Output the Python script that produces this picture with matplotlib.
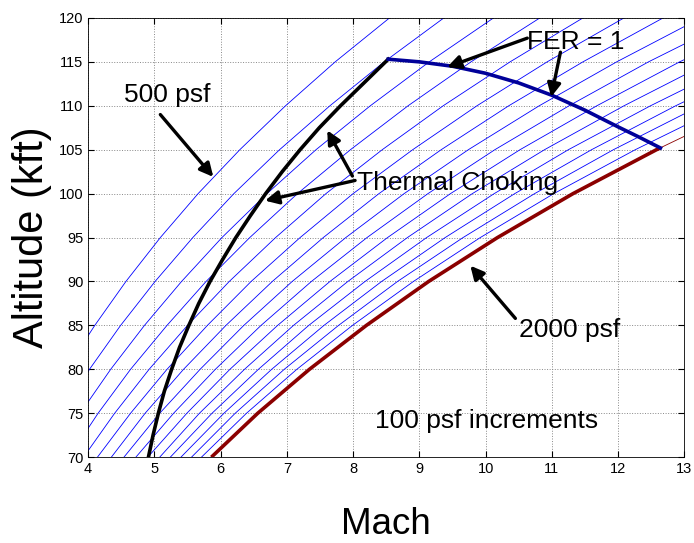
import matplotlib
matplotlib.use("Agg")
import matplotlib.pyplot as plt

plt.rcParams['font.family'] = ['Liberation Sans', 'DejaVu Sans']

# Altitude levels (kft) at which the constant-q lines were read
altitudes = [70, 75, 80, 85, 90, 95, 100, 105, 110, 115, 120]

# Mach number of each constant dynamic-pressure line (psf) at those altitudes
q_levels = [500, 600, 700, 800, 900, 1000, 1100, 1200, 1300, 1400, 1500,
            1600, 1700, 1800, 1900, 2000]
mach_q500 = [2.93, 3.28, 3.67, 4.10, 4.57, 5.09, 5.66, 6.29, 6.98, 7.73, 8.55]
mach_q600 = [3.21, 3.59, 4.02, 4.49, 5.01, 5.58, 6.20, 6.89, 7.65, 8.47, 9.37]
mach_q700 = [3.47, 3.88, 4.34, 4.85, 5.41, 6.02, 6.70, 7.44, 8.26, 9.15, 10.12]
mach_q800 = [3.71, 4.15, 4.64, 5.19, 5.78, 6.44, 7.16, 7.96, 8.83, 9.78, 10.82]
mach_q900 = [3.93, 4.40, 4.92, 5.50, 6.13, 6.83, 7.59, 8.44, 9.36, 10.37, 11.47]
mach_q1000 = [4.14, 4.64, 5.19, 5.80, 6.46, 7.20, 8.00, 8.90, 9.87, 10.93, 12.09]
mach_q1100 = [4.35, 4.86, 5.44, 6.08, 6.78, 7.55, 8.39, 9.33, 10.35, 11.47, 12.68]
mach_q1200 = [4.54, 5.08, 5.69, 6.35, 7.08, 7.89, 8.77, 9.74, 10.81, 11.98, 13.25]
mach_q1300 = [4.72, 5.29, 5.92, 6.61, 7.37, 8.21, 9.13, 10.14, 11.26, 12.46, 13.79]
mach_q1400 = [4.90, 5.49, 6.14, 6.86, 7.65, 8.52, 9.47, 10.52, 11.68, 12.93, 14.31]
mach_q1500 = [5.08, 5.68, 6.36, 7.10, 7.92, 8.82, 9.80, 10.89, 12.09, 13.39, 14.81]
mach_q1600 = [5.24, 5.87, 6.57, 7.33, 8.18, 9.11, 10.13, 11.25, 12.49, 13.83, 15.30]
mach_q1700 = [5.40, 6.05, 6.77, 7.56, 8.43, 9.39, 10.44, 11.60, 12.87, 14.25, 15.77]
mach_q1800 = [5.56, 6.22, 6.96, 7.78, 8.67, 9.66, 10.74, 11.93, 13.24, 14.67, 16.22]
mach_q1900 = [5.71, 6.39, 7.15, 7.99, 8.91, 9.92, 11.03, 12.26, 13.61, 15.07, 16.67]
mach_q2000 = [5.86, 6.56, 7.34, 8.20, 9.14, 10.18, 11.32, 12.58, 13.96, 15.46, 17.10]

blue_lines = [mach_q500, mach_q600, mach_q700, mach_q800, mach_q900, mach_q1000,
              mach_q1100, mach_q1200, mach_q1300, mach_q1400, mach_q1500,
              mach_q1600, mach_q1700, mach_q1800, mach_q1900]

# 2000 psf boundary (thick part, up to FER = 1)
q2000_thick_mach = [5.86, 6.56, 7.34, 8.20, 9.14, 10.18, 11.32, 12.58, 12.64]
q2000_thick_alt = [70, 75, 80, 85, 90, 95, 100, 105, 105.2]

# Thermal choking boundary
choke_mach = [4.91, 4.98, 5.06, 5.15, 5.26, 5.38, 5.52, 5.67, 5.84, 6.03,
              6.23, 6.45, 6.68, 6.93, 7.20, 7.49, 7.81, 8.15, 8.49, 8.53]
choke_alt = [70, 72.5, 75, 77.5, 80, 82.5, 85, 87.5, 90, 92.5,
             95, 97.5, 100, 102.5, 105, 107.5, 110, 112.5, 115, 115.3]

# FER = 1 boundary
fer_mach = [8.53, 9.0, 9.5, 10.0, 10.5, 11.0, 11.5, 12.0, 12.3, 12.64]
fer_alt = [115.3, 115.0, 114.5, 113.7, 112.6, 111.2, 109.5, 107.6, 106.5, 105.2]

fig = plt.figure(figsize=(6.94, 5.43), dpi=100)
ax = fig.add_axes([0.127, 0.158, 0.859, 0.809])

for m in blue_lines:
    ax.plot(m, altitudes, color='#0000ff', lw=0.6)
ax.plot(mach_q2000, altitudes, color='#8b0000', lw=0.6)
ax.plot(q2000_thick_mach, q2000_thick_alt, color='#8b0000', lw=2.6,
        solid_capstyle='butt')
ax.plot(choke_mach, choke_alt, color='black', lw=2.6)
ax.plot(fer_mach, fer_alt, color='#000099', lw=2.6)

ax.set_xlim(4, 13)
ax.set_ylim(70, 120)
ax.set_xticks(range(4, 14))
ax.set_yticks(range(70, 121, 5))
ax.tick_params(direction='in', top=True, right=True, labelsize=10.5, length=4)
ax.grid(True, linestyle=':', color='#888888', lw=0.7)
for s in ax.spines.values():
    s.set_linewidth(0.6)

ax.set_xlabel('Mach', fontsize=26.5, labelpad=22)
ax.set_ylabel('Altitude (kft)', fontsize=30)
ax.yaxis.set_label_coords(-0.061, 0.5)

arrow = dict(arrowstyle='-|>', color='black', lw=2.4, mutation_scale=20,
             shrinkA=0, shrinkB=0)
tfs = 19

ax.text(5.19, 111.2, '500 psf', fontsize=tfs, ha='center', va='center')
ax.annotate('', xy=(5.89, 101.9), xytext=(5.09, 109.0), arrowprops=arrow)

ax.text(10.63, 117.3, 'FER = 1', fontsize=tfs, ha='left', va='center')
ax.annotate('', xy=(9.42, 114.4), xytext=(10.63, 117.7), arrowprops=arrow)
ax.annotate('', xy=(10.99, 111.0), xytext=(11.13, 116.1), arrowprops=arrow)

ax.text(8.06, 101.2, 'Thermal Choking', fontsize=tfs, ha='left', va='center')
ax.annotate('', xy=(6.67, 99.2), xytext=(8.03, 101.5), arrowprops=arrow)
ax.annotate('', xy=(7.61, 107.2), xytext=(7.99, 102.0), arrowprops=arrow)

ax.text(10.51, 84.5, '2000 psf', fontsize=tfs, ha='left', va='center')
ax.annotate('', xy=(9.77, 91.8), xytext=(10.45, 85.8), arrowprops=arrow)

ax.text(8.33, 74.1, '100 psf increments', fontsize=tfs, ha='left', va='center')

fig.savefig('out.png', dpi=100)
